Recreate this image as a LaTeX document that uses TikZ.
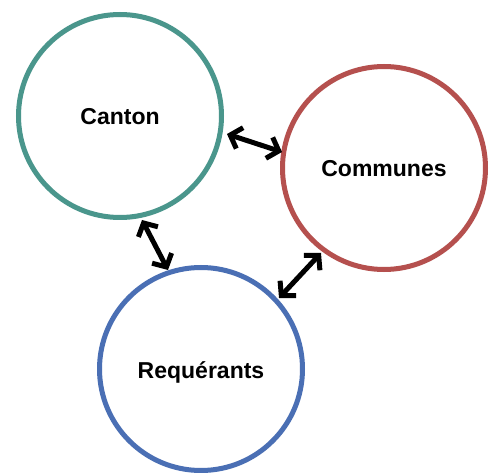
\documentclass[tikz,border=0pt]{standalone}
\usepackage{fontspec}
\setmainfont{Liberation Sans}
\usetikzlibrary{arrows.meta}
\definecolor{cteal}{HTML}{4A968C}
\definecolor{cred}{HTML}{B5504E}
\definecolor{cblue}{HTML}{4A6FB4}
\tikzset{
  ring/.style={circle, line width=5pt, minimum size=203pt, inner sep=0pt, text height=18pt, text depth=0pt, font=\fontsize{23}{26}\selectfont\bfseries},
  link/.style={line width=5pt, {Straight Barb[length=10pt,width=22pt,line width=5pt]}-{Straight Barb[length=10pt,width=22pt,line width=5pt]}}
}
\begin{document}
\begin{tikzpicture}[x=1pt,y=-1pt]
\useasboundingbox[fill=white] (0,0) rectangle (493,473);
\node[ring, draw=cteal] (canton) at (120,116) {Canton};
\node[ring, draw=cred] (communes) at (384,168) {Communes};
\node[ring, draw=cblue] (req) at (201,369) {Requérants};
\coordinate (a1) at (227,134);
\coordinate (a2) at (282,152);
\coordinate (b1) at (142,220);
\coordinate (b2) at (168,270);
\coordinate (c1) at (321,253);
\coordinate (c2) at (279,298);
\draw[link] (a1) -- (a2);
\draw[link] (b1) -- (b2);
\draw[link] (c1) -- (c2);
\end{tikzpicture}
\end{document}
